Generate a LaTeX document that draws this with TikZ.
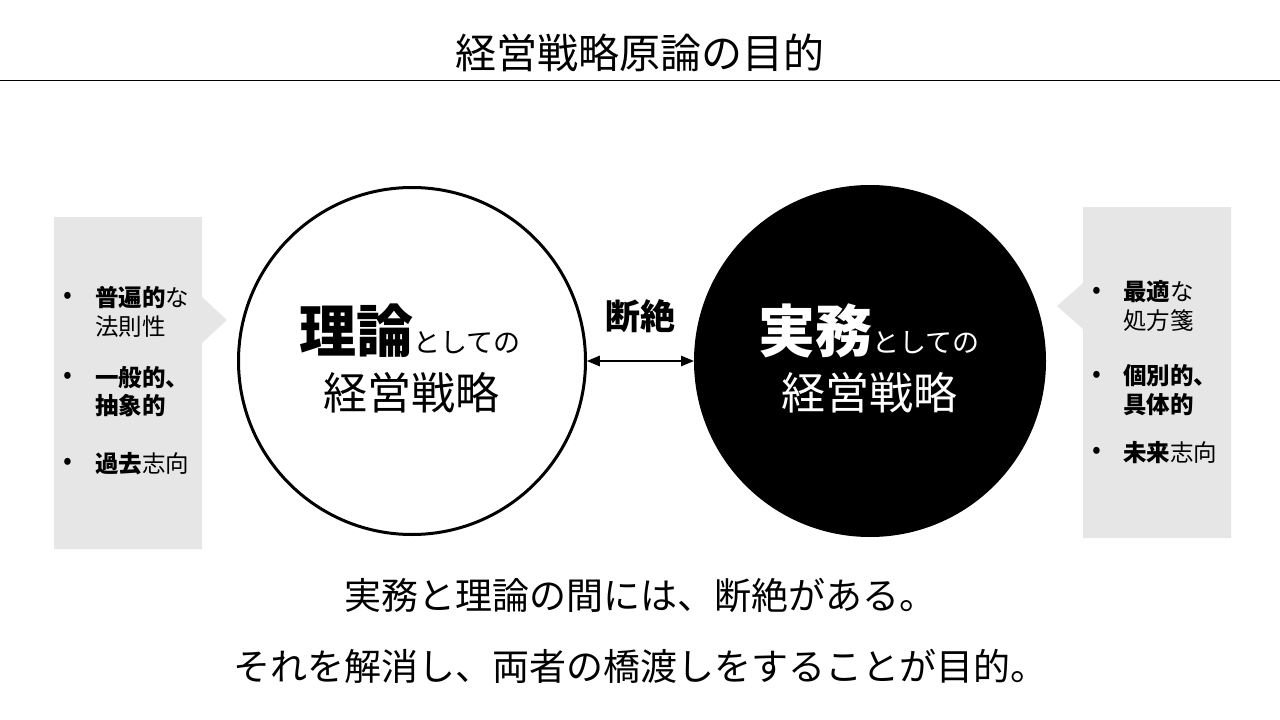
\documentclass[tikz,border=0pt]{standalone}
\usepackage{fontspec}
\setmainfont{Noto Sans CJK JP}
\usetikzlibrary{arrows}
\definecolor{boxgray}{HTML}{E7E6E6}

\begin{document}
\begin{tikzpicture}[x=1pt,y=-1pt,
  item/.style={anchor=west, inner sep=0pt, align=left, font=\fontsize{23.5}{28.5}\selectfont},
  dot/.style={inner sep=0pt, font=\fontsize{26}{28}\selectfont},
  msg/.style={inner sep=0pt, font=\fontsize{37}{40}\selectfont}]

\useasboundingbox (0,0) rectangle (1280,720);

% title
\node (title) at (640,53) [inner sep=0pt, font=\fontsize{41}{48}\selectfont] {経営戦略原論の目的};
\draw [line width=1.5pt] (0,80.5)--(1280,80.5);

% side boxes
\fill [boxgray] (54,217)--(202,217)--(202,297)--(227,320)--(202,343)--(202,549)--(54,549)--cycle;
\fill [boxgray] (1083,207)--(1231,207)--(1231,538)--(1083,538)--(1083,329)--(1057,306)--(1083,283)--cycle;

% circles
\node (theory) at (412,361) [circle, draw, line width=3pt, minimum size=347pt, inner sep=0pt] {};
\node (practice) at (870,361) [circle, fill=black, minimum size=352pt, inner sep=0pt] {};

\draw [line width=2pt, triangle 45-triangle 45] (theory.east)--(practice.west);
\node (gap) at (640,316) [inner sep=0pt, font=\fontsize{35}{40}\selectfont\bfseries] {断絶};

\node (theoryA) at (410,331) [inner sep=0pt] {{\fontsize{57}{60}\selectfont\bfseries 理論}{\fontsize{27}{30}\selectfont としての}};
\node (theoryB) at (411,393) [inner sep=0pt, font=\fontsize{44}{48}\selectfont] {経営戦略};
\node (practiceA) at (869,331) [inner sep=0pt, white] {{\fontsize{57}{60}\selectfont\bfseries 実務}{\fontsize{27}{30}\selectfont としての}};
\node (practiceB) at (869,393) [inner sep=0pt, white, font=\fontsize{44}{48}\selectfont] {経営戦略};

% left list
\node (dotA) at (68,298) [dot] {•};
\node (dotB) at (68,377.5) [dot] {•};
\node (dotC) at (68,464) [dot] {•};
\node (lawA) at (95,312) [item] {\textbf{普遍的}な\\法則性};
\node (lawB) at (95,391.5) [item] {\textbf{一般的、}\\\textbf{抽象的}};
\node (lawC) at (95,464) [item] {\textbf{過去}志向};

% right list
\node (dotD) at (1097,292.5) [dot] {•};
\node (dotE) at (1097,377) [dot] {•};
\node (dotF) at (1097,453) [dot] {•};
\node (fixA) at (1123,306) [item] {\textbf{最適}な\\処方箋};
\node (fixB) at (1123,390) [item] {\textbf{個別的、}\\\textbf{具体的}};
\node (fixC) at (1123,453) [item] {\textbf{未来}志向};

% message
\node (msgA) at (640,595) [msg] {実務と理論の間には、断絶がある。};
\node (msgB) at (640,666) [msg] {それを解消し、両者の橋渡しをすることが目的。};

\end{tikzpicture}
\end{document}
